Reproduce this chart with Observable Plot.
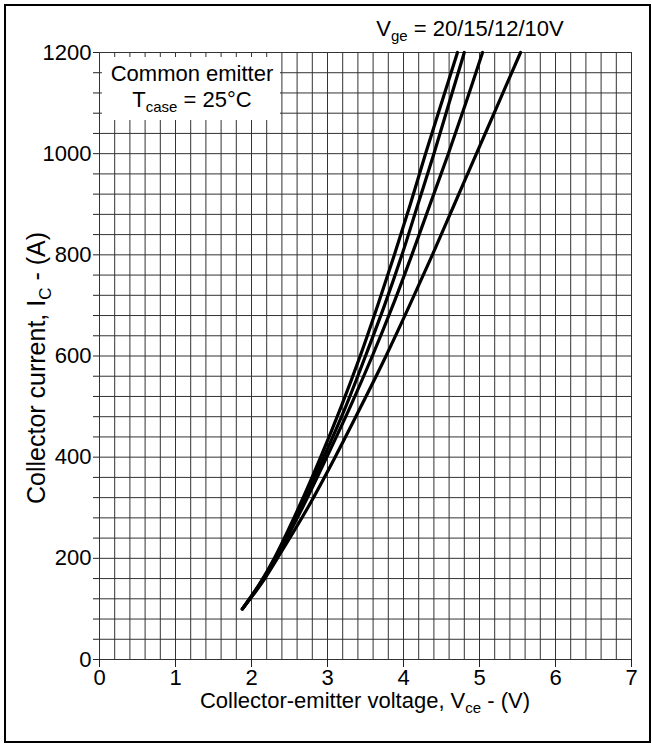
<!DOCTYPE html>
<html>
<head>
<meta charset="utf-8">
<script src="https://cdn.jsdelivr.net/npm/d3@7"></script>
<script src="https://cdn.jsdelivr.net/npm/@observablehq/plot@0.6"></script>
<style>
  html, body { margin: 0; padding: 0; background: #fff; }
  body { width: 652px; height: 744px; position: relative; overflow: hidden;
         font-family: "Liberation Sans", Arial, Helvetica, sans-serif; color: #000; }
  #frame { position: absolute; left: 4px; top: 4px; width: 647px; height: 739px;
           box-sizing: border-box; border: 2px solid #000; }
  #chart { position: absolute; left: 0; top: 0; }
  .t { position: absolute; font-size: 22px; line-height: 1; white-space: nowrap; }
  .t sub { font-size: 15px; vertical-align: -5px; line-height: 0; }
  #yl { font-size: 25px; }
  #yl sub { font-size: 17px; vertical-align: -6px; }
  #box { position: absolute; left: 102px; top: 57px; width: 178px; height: 63px; background: #fff; }
</style>
</head>
<body>
<div id="frame"></div>
<div id="chart"></div>
<div id="box"></div>
<div class="t" id="vge" style="left:470px; top:18px; transform:translateX(-50%);"></div>
<div class="t" id="cm1" style="left:192px; top:63px; transform:translateX(-50%);"></div>
<div class="t" id="cm2" style="left:192px; top:89px; transform:translateX(-50%);"></div>
<div class="t" id="xl" style="left:365px; top:690px; transform:translateX(-50%);"></div>
<div class="t" id="yl" style="left:36px; top:368px; transform:translate(-50%,-50%) rotate(-90deg);"></div>
<script>
// ---- data ----
const currents = [100, 150, 200, 300, 400, 500, 600, 700, 800, 900, 1000, 1100, 1200];
const vce20 = [1.88, 2.11, 2.30, 2.62, 2.91, 3.18, 3.43, 3.66, 3.88, 4.09, 4.29, 4.50, 4.71];
const vce15 = [1.88, 2.11, 2.31, 2.64, 2.95, 3.24, 3.50, 3.75, 3.98, 4.19, 4.40, 4.60, 4.80];
const vce12 = [1.88, 2.12, 2.32, 2.67, 2.99, 3.30, 3.59, 3.86, 4.11, 4.35, 4.59, 4.82, 5.04];
const vce10 = [1.88, 2.13, 2.34, 2.74, 3.10, 3.44, 3.77, 4.08, 4.38, 4.67, 4.96, 5.25, 5.54];
const seriesNames = ["20V", "15V", "12V", "10V"];
const xTickValues = [0, 1, 2, 3, 4, 5, 6, 7];
const yTickValues = [0, 200, 400, 600, 800, 1000, 1200];
const xGridStep = 0.2;
const yGridStep = 40;

const vgeText = ["V", "ge", " = 20/15/12/10V"];
const commonText = "Common emitter";
const tcaseText = ["T", "case", " = 25°C"];
const xLabelText = ["Collector-emitter voltage, V", "ce", " - (V)"];
const yLabelText = ["Collector current, I", "C", " - (A)"];

// ---- build table ----
const allSeries = [vce20, vce15, vce12, vce10];
const rows = [];
allSeries.forEach((vals, k) => {
  vals.forEach((v, i) => rows.push({series: seriesNames[k], vce: v, ic: currents[i]}));
});

const xGrid = d3.range(0, 7 + 1e-9, xGridStep);
const yGrid = d3.range(0, 1200 + 1e-9, yGridStep);

const chart = Plot.plot({
  width: 652,
  height: 744,
  marginTop: 52,
  marginBottom: 85,
  marginLeft: 99,
  marginRight: 21,
  style: {fontFamily: '"Liberation Sans", Arial, Helvetica, sans-serif', fontSize: "22px", background: "transparent"},
  x: {domain: [0, 7]},
  y: {domain: [0, 1200]},
  marks: [
    Plot.ruleX(xGrid, {stroke: "#333", strokeWidth: 1}),
    Plot.ruleY(yGrid, {stroke: "#333", strokeWidth: 1}),
    Plot.axisX({ticks: xTickValues, tickFormat: d => String(d), tickSize: 8, tickPadding: 2, label: null, stroke: "#222", fill: "#000", fontSize: 22}),
    Plot.axisY({ticks: yGrid, tickFormat: d => (yTickValues.includes(d) ? String(d) : ""), tickSize: 6, tickPadding: 2, label: null, stroke: "#222", fill: "#000", fontSize: 22}),
    Plot.line(rows, {x: "vce", y: "ic", z: "series", curve: "catmull-rom", stroke: "#000", strokeWidth: 3.2, strokeLinecap: "round"})
  ]
});
document.getElementById("chart").appendChild(chart);

function setSub(id, parts) {
  const el = document.getElementById(id);
  el.append(document.createTextNode(parts[0]));
  const s = document.createElement("sub");
  s.textContent = parts[1];
  el.append(s);
  el.append(document.createTextNode(parts[2]));
}
setSub("vge", vgeText);
document.getElementById("cm1").textContent = commonText;
setSub("cm2", tcaseText);
setSub("xl", xLabelText);
setSub("yl", yLabelText);
</script>
</body>
</html>
